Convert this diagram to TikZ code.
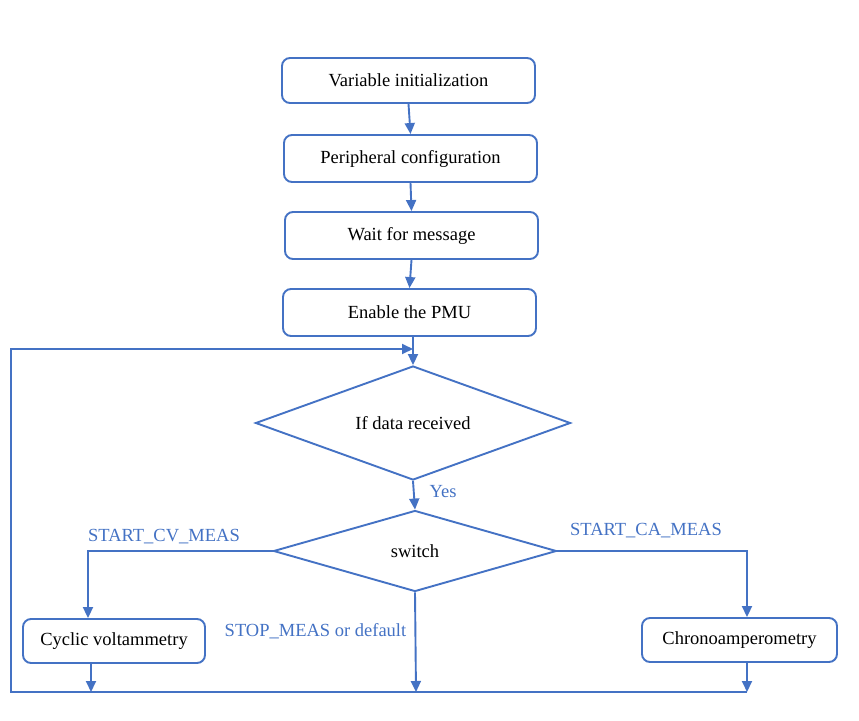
\documentclass[tikz,border=0pt]{standalone}
\usepackage{fontspec}
\setmainfont{Liberation Serif}
\usetikzlibrary{shapes.geometric,arrows.meta}
\definecolor{flowblue}{HTML}{4472C4}
\tikzset{
  box/.style={draw=flowblue, line width=1.9pt, rounded corners=8pt, fill=white,
    inner sep=0pt, font=\fontsize{18.5}{21}\selectfont, text=black},
  decision/.style={draw=flowblue, line width=1.9pt, diamond, inner sep=0pt,
    font=\fontsize{18.5}{21}\selectfont, text=black},
  link/.style={draw=flowblue, line width=1.9pt,
    -{Triangle[length=11pt,width=10pt]}},
  wire/.style={draw=flowblue, line width=1.9pt},
  tag/.style={text=flowblue, font=\fontsize{18.5}{21}\selectfont, inner sep=0pt}
}
\begin{document}
\begin{tikzpicture}[x=1pt,y=-1pt]
\useasboundingbox (0,0) rectangle (859,720);

% main sequence
\node[box, minimum width=253pt, minimum height=45pt] (init) at (408.5,80.5) {Variable initialization};
\node[box, minimum width=253pt, minimum height=47pt] (periph) at (410.5,158.5) {Peripheral configuration};
\node[box, minimum width=253pt, minimum height=47pt] (wait) at (411.5,235.5) {Wait for message};
\node[box, minimum width=253pt, minimum height=47pt] (pmu) at (409.5,312.5) {Enable the PMU};

% decisions
\node[decision, aspect=2.76, minimum width=315pt, minimum height=114pt] (recv) at (413,423) {If data received};
\node[decision, aspect=3.5, minimum width=283pt, minimum height=81pt] (sw) at (415,551) {switch};

% measurement blocks
\node[box, minimum width=182pt, minimum height=44pt] (cv) at (114,641) {Cyclic voltammetry};
\node[box, minimum width=195pt, minimum height=44pt] (ca) at (739.5,640) {Chronoamperometry};

% helper coordinates
\coordinate (join) at (413,349);
\coordinate (cvturn) at (88,551);
\coordinate (caturn) at (747,551);
\coordinate (cvdrop) at (91,692);
\coordinate (swdrop) at (416,692);
\coordinate (cadrop) at (747,692);
\coordinate (loopbl) at (11,692);
\coordinate (looptl) at (11,349);

% connectors
\draw[link] (init.south) -- (periph.north);
\draw[link] (periph.south) -- (wait.north);
\draw[link] (wait.south) -- (pmu.north);
\draw[link] (pmu.south -| join) -- (recv.north);
\draw[link] (recv.south) -- (sw.north);
\draw[link] (sw.west) -- (cvturn) -- (cv.north -| cvturn);
\draw[link] (sw.east) -- (caturn) -- (ca.north -| caturn);
\draw[link] (sw.south) -- (swdrop);
\draw[link] (cv.south -| cvdrop) -- (cvdrop);
\draw[link] (ca.south -| cadrop) -- (cadrop);

% return loop
\draw[wire, line join=miter] (cadrop) -- (loopbl) -- (looptl) -- ++(300,0);
\draw[link] (looptl) -- (join);

% branch labels
\node[tag] (yes) at (443,492) {Yes};
\node[tag] (cvlab) at (164,537) {START\_CV\_MEAS};
\node[tag] (calab) at (646,531) {START\_CA\_MEAS};
\node[tag] (stoplab) at (315.5,631) {STOP\_MEAS or default};
\end{tikzpicture}
\end{document}
